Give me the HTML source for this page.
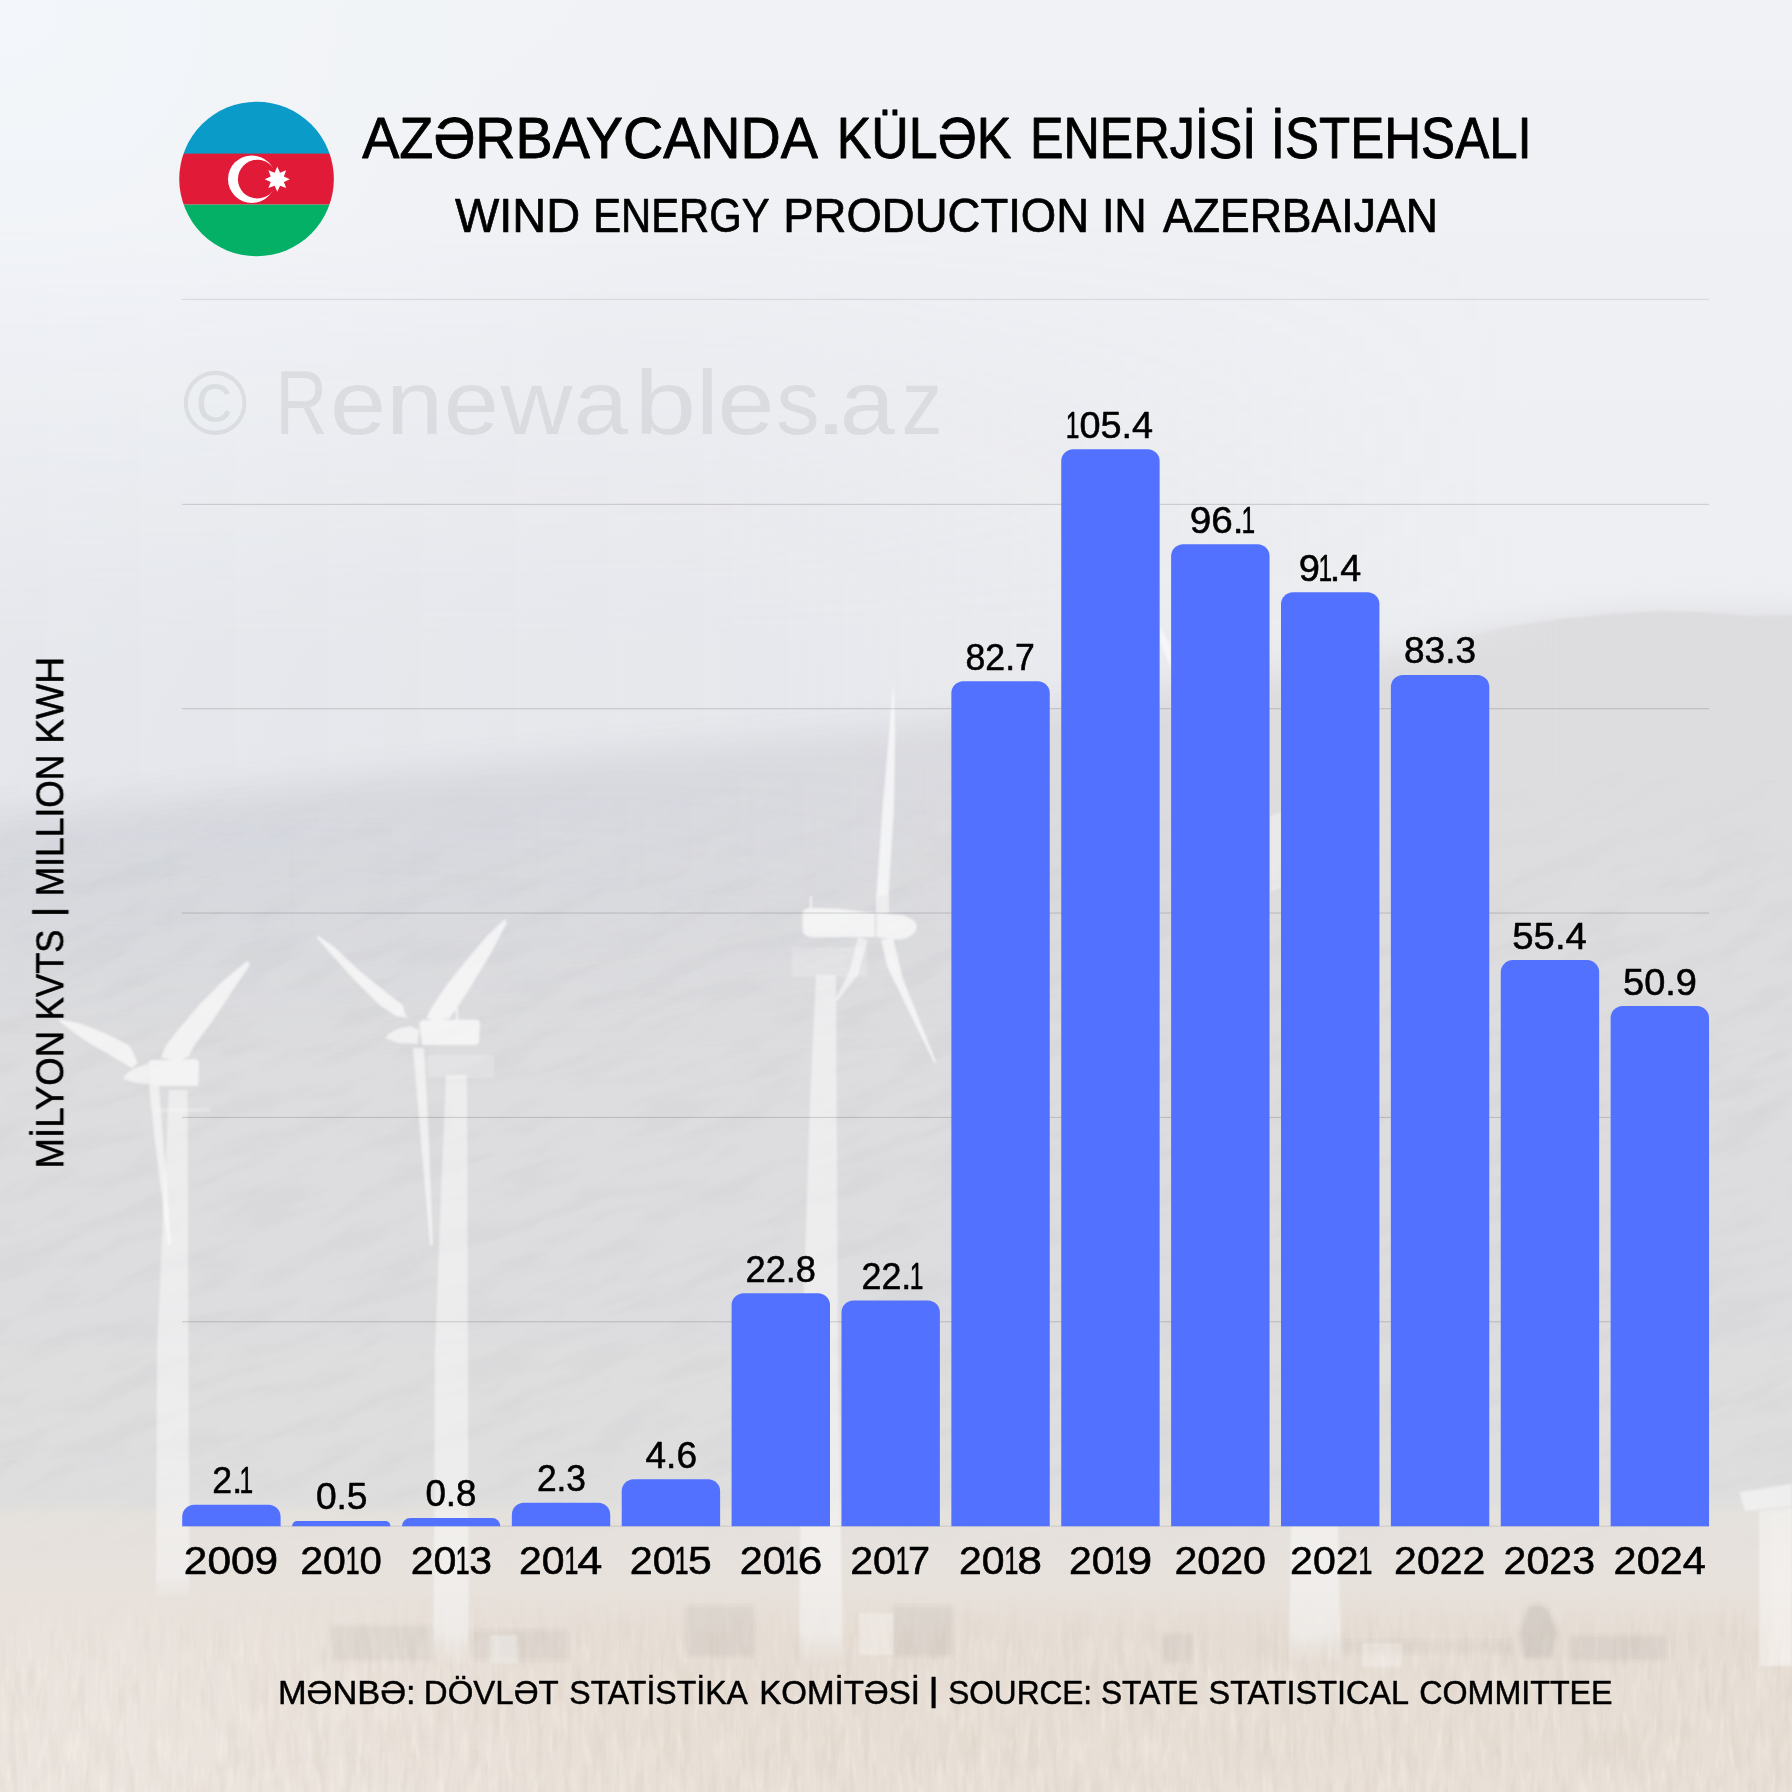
<!DOCTYPE html>
<html lang="az">
<head>
<meta charset="utf-8">
<title>Azərbaycanda külək enerjisi istehsalı</title>
<style>
html,body{margin:0;padding:0;background:#e9ebef;}
body{width:1792px;height:1792px;overflow:hidden;font-family:"Liberation Sans",sans-serif;}
svg{display:block;position:absolute;left:0;top:0;}
text{font-family:"Liberation Sans",sans-serif;fill:#000;stroke:#000;stroke-linejoin:round;}
</style>
</head>
<body>
<svg width="1792" height="1792" viewBox="0 0 1792 1792">
<defs>
<linearGradient id="sky" x1="0" y1="0" x2="0" y2="1792" gradientUnits="userSpaceOnUse">
<stop offset="0" stop-color="#f0f2f5"/>
<stop offset="0.17" stop-color="#eff0f4"/>
<stop offset="0.28" stop-color="#eeeff2"/>
<stop offset="0.40" stop-color="#edeef1"/>
<stop offset="1" stop-color="#ebecef"/>
</linearGradient>
<radialGradient id="tlglow" cx="0" cy="0" r="700" gradientUnits="userSpaceOnUse">
<stop offset="0" stop-color="#f4f8fc" stop-opacity="0.7"/>
<stop offset="0.5" stop-color="#f4f8fc" stop-opacity="0.35"/>
<stop offset="1" stop-color="#f4f8fc" stop-opacity="0"/>
</radialGradient>
<linearGradient id="hazeh" x1="0" y1="0" x2="1792" y2="0" gradientUnits="userSpaceOnUse">
<stop offset="0" stop-color="#c6ccd9" stop-opacity="0.2"/>
<stop offset="0.4" stop-color="#c6ccd9" stop-opacity="0.17"/>
<stop offset="0.85" stop-color="#c6ccd9" stop-opacity="0"/>
</linearGradient>
<linearGradient id="hazev" x1="0" y1="220" x2="0" y2="640" gradientUnits="userSpaceOnUse">
<stop offset="0" stop-color="#fff" stop-opacity="0"/>
<stop offset="1" stop-color="#fff" stop-opacity="1"/>
</linearGradient>
<mask id="hazemask"><rect width="1792" height="1000" fill="url(#hazev)"/></mask>
<linearGradient id="mtn" x1="0" y1="600" x2="0" y2="1560" gradientUnits="userSpaceOnUse">
<stop offset="0" stop-color="#dddde0"/>
<stop offset="0.2" stop-color="#dddde0"/>
<stop offset="0.5" stop-color="#dddddf"/>
<stop offset="0.85" stop-color="#dededf"/>
<stop offset="1" stop-color="#dfdfdf"/>
</linearGradient>
<linearGradient id="mtnblue" x1="0" y1="0" x2="1250" y2="0" gradientUnits="userSpaceOnUse">
<stop offset="0" stop-color="#c3cbdc" stop-opacity="0.3"/>
<stop offset="0.5" stop-color="#c3cbdc" stop-opacity="0.2"/>
<stop offset="1" stop-color="#c3c9d8" stop-opacity="0"/>
</linearGradient>
<linearGradient id="mtnbluev" x1="0" y1="760" x2="0" y2="1060" gradientUnits="userSpaceOnUse">
<stop offset="0" stop-color="#fff" stop-opacity="1"/>
<stop offset="0.4" stop-color="#fff" stop-opacity="0.8"/>
<stop offset="1" stop-color="#fff" stop-opacity="0"/>
</linearGradient>
<mask id="mbmask"><rect y="600" width="1300" height="480" fill="url(#mtnbluev)"/></mask>
<linearGradient id="ground" x1="0" y1="1496" x2="0" y2="1792" gradientUnits="userSpaceOnUse">
<stop offset="0" stop-color="#e3e1de" stop-opacity="0"/>
<stop offset="0.06" stop-color="#e5e1dd" stop-opacity="1"/>
<stop offset="0.4" stop-color="#e9e2dc"/>
<stop offset="0.6" stop-color="#ebe4de"/>
<stop offset="1" stop-color="#ece5df"/>
</linearGradient>
<linearGradient id="rightsharp" x1="1380" y1="0" x2="1560" y2="0" gradientUnits="userSpaceOnUse">
<stop offset="0" stop-color="#fff" stop-opacity="0"/>
<stop offset="1" stop-color="#fff" stop-opacity="1"/>
</linearGradient>
<mask id="rmask"><rect x="1300" y="500" width="500" height="400" fill="url(#rightsharp)"/></mask>
<linearGradient id="tower" x1="0" y1="1000" x2="0" y2="1662" gradientUnits="userSpaceOnUse">
<stop offset="0" stop-color="#fff" stop-opacity="0.48"/>
<stop offset="0.8" stop-color="#fff" stop-opacity="0.45"/>
<stop offset="0.955" stop-color="#f4f4f5" stop-opacity="0.55"/>
<stop offset="1" stop-color="#f4f4f5" stop-opacity="0.05"/>
</linearGradient>
<linearGradient id="towerA" x1="0" y1="1000" x2="0" y2="1598" gradientUnits="userSpaceOnUse">
<stop offset="0" stop-color="#fff" stop-opacity="0.48"/>
<stop offset="0.8" stop-color="#fff" stop-opacity="0.45"/>
<stop offset="0.965" stop-color="#f4f4f5" stop-opacity="0.55"/>
<stop offset="1" stop-color="#f4f4f5" stop-opacity="0.05"/>
</linearGradient>
<filter id="b14" x="-10%" y="-20%" width="120%" height="140%"><feGaussianBlur stdDeviation="17"/></filter>
<filter id="b3" x="-10%" y="-20%" width="120%" height="140%"><feGaussianBlur stdDeviation="1.2"/></filter>
<filter id="b1" x="-20%" y="-20%" width="140%" height="140%"><feGaussianBlur stdDeviation="0.9"/></filter>
<clipPath id="flagclip"><circle cx="256.55" cy="179" r="77.3"/></clipPath>
</defs>
<rect width="1792" height="1792" fill="url(#sky)"/>
<rect width="720" height="720" fill="url(#tlglow)"/>
<rect width="1792" height="1000" fill="url(#hazeh)" mask="url(#hazemask)"/>
<path d="M-60 822 L100 806 L200 794 L400 773 L600 754 L800 736 L900 726 L1100 698 L1300 668 L1400 652 L1500 630 L1615 616 L1700 614 L1860 618 L1860 1640 L-60 1640 Z" fill="url(#mtn)" filter="url(#b14)"/>
<path d="M1300 676 L1400 656 L1450 642 L1500 628 L1560 619 L1615 614 L1660 611 L1700 612 L1750 616 L1800 615 L1800 780 L1300 780 Z" fill="#dddde0" filter="url(#b3)" mask="url(#rmask)"/>
<g mask="url(#mbmask)"><path d="M-60 832 L100 816 L200 804 L400 783 L600 764 L800 746 L900 736 L1100 708 L1300 678 L1300 1080 L-60 1080 Z" fill="url(#mtnblue)" filter="url(#b14)"/></g>
<rect y="1496" width="1792" height="296" fill="url(#ground)"/>
<defs>
<filter id="grassD" x="0" y="0" width="100%" height="100%" color-interpolation-filters="sRGB">
<feTurbulence type="fractalNoise" baseFrequency="0.11 0.018" numOctaves="3" seed="11"/>
<feColorMatrix type="matrix" values="0 0 0 0 0.52  0 0 0 0 0.42  0 0 0 0 0.30  2.2 0 0 0 -0.95"/>
</filter>
<filter id="grassL" x="0" y="0" width="100%" height="100%" color-interpolation-filters="sRGB">
<feTurbulence type="fractalNoise" baseFrequency="0.16 0.03" numOctaves="2" seed="29"/>
<feColorMatrix type="matrix" values="0 0 0 0 1  0 0 0 0 0.98  0 0 0 0 0.94  0 2.4 0 0 -1.15"/>
</filter>
<filter id="rock" x="0" y="0" width="100%" height="100%" color-interpolation-filters="sRGB">
<feTurbulence type="fractalNoise" baseFrequency="0.012 0.05" numOctaves="3" seed="5"/>
<feColorMatrix type="matrix" values="0 0 0 0 0.45  0 0 0 0 0.46  0 0 0 0 0.5  1.8 0 0 0 -0.8"/>
</filter>
<linearGradient id="grassfade" x1="0" y1="1590" x2="0" y2="1792" gradientUnits="userSpaceOnUse">
<stop offset="0" stop-color="#fff" stop-opacity="0"/>
<stop offset="0.3" stop-color="#fff" stop-opacity="0.8"/>
<stop offset="1" stop-color="#fff" stop-opacity="1"/>
</linearGradient>
<mask id="grassmask"><rect y="1570" width="1792" height="222" fill="url(#grassfade)"/></mask>
<linearGradient id="rockfade" x1="0" y1="760" x2="0" y2="1560" gradientUnits="userSpaceOnUse">
<stop offset="0" stop-color="#fff" stop-opacity="0"/>
<stop offset="0.2" stop-color="#fff" stop-opacity="1"/>
<stop offset="0.85" stop-color="#fff" stop-opacity="1"/>
<stop offset="1" stop-color="#fff" stop-opacity="0"/>
</linearGradient>
<mask id="rockmask"><rect y="760" width="1792" height="800" fill="url(#rockfade)"/></mask>
<linearGradient id="tanh" x1="150" y1="0" x2="700" y2="0" gradientUnits="userSpaceOnUse">
<stop offset="0" stop-color="#dccfbd" stop-opacity="0"/>
<stop offset="1" stop-color="#dccfbd" stop-opacity="0.27"/>
</linearGradient>
<linearGradient id="tanv" x1="0" y1="1590" x2="0" y2="1792" gradientUnits="userSpaceOnUse">
<stop offset="0" stop-color="#fff" stop-opacity="0"/>
<stop offset="0.22" stop-color="#fff" stop-opacity="1"/>
<stop offset="0.7" stop-color="#fff" stop-opacity="1"/>
<stop offset="1" stop-color="#fff" stop-opacity="0.75"/>
</linearGradient>
<mask id="tanmask"><rect y="1590" width="1792" height="202" fill="url(#tanv)"/></mask>
<filter id="b2" x="-20%" y="-20%" width="140%" height="140%"><feGaussianBlur stdDeviation="2"/></filter>
</defs>
<g mask="url(#rockmask)"><rect x="-300" y="300" width="2400" height="1700" filter="url(#rock)" opacity="0.055" transform="rotate(-20 896 1160)"/></g>
<rect y="1590" width="1792" height="202" fill="url(#tanh)" mask="url(#tanmask)"/>
<g mask="url(#grassmask)">
<rect y="1570" width="1792" height="222" filter="url(#grassD)" opacity="0.07"/>
<rect y="1570" width="1792" height="222" filter="url(#grassL)" opacity="0.32"/>
</g>
<g filter="url(#b2)" fill="#5a5a5a">
<rect x="331" y="1626" width="100" height="34" opacity="0.07"/>
<rect x="472" y="1630" width="96" height="30" opacity="0.06"/>
<rect x="686" y="1606" width="68" height="50" opacity="0.075"/>
<rect x="892" y="1606" width="60" height="50" opacity="0.075"/>
<rect x="1163" y="1634" width="30" height="28" opacity="0.07"/>
<rect x="1342" y="1640" width="170" height="14" opacity="0.04"/>
<path d="M1527 1608 Q1539 1600 1549 1610 L1557 1632 L1552 1658 L1524 1658 L1520 1632 Z" opacity="0.12"/>
<rect x="1570" y="1636" width="96" height="24" opacity="0.08"/>
</g>
<g filter="url(#b1)" fill="#fff">
<rect x="490" y="1635" width="27" height="28" opacity="0.3"/>
<rect x="859" y="1613" width="35" height="42" opacity="0.3"/>
<rect x="1362" y="1643" width="40" height="24" opacity="0.28"/>
</g>
<g fill="#fff" filter="url(#b1)">
<!-- turbine A -->
<g>
<path fill="url(#towerA)" d="M169 1090 L187.5 1090 L188.5 1350 L189.5 1598 L156 1598 L157 1350 L164 1192 Z"/>
<rect x="155" y="1108" width="56" height="4" opacity="0.25"/>
</g>
<g opacity="0.66">
<path d="M247.3 960.7 L250 964.6 L232.1 991.4 L210.7 1023.6 L194.6 1045 L189.3 1055.7 L178.6 1061.1 L160.7 1057.5 L166.1 1045 L180.4 1027.1 L200 1003.9 L223.2 980.7 Z"/>
<path d="M58.9 1019.1 L80.4 1023.6 L107.1 1034.3 L128.6 1045 L133 1052.1 L137.5 1062.9 L132.1 1068.2 L114.3 1057.5 L89.3 1043.2 L71.4 1030.7 L58.9 1020.9 Z"/>
<path d="M149 1086 L159 1086 L164 1150 L171 1245 L168 1245 L156 1150 Z" opacity="0.85"/>
<path d="M148.2 1064 Q148.2 1060 153 1060 L195 1059.3 Q199.1 1059.3 199 1064 L198.2 1086 L150 1086 Z"/>
<path d="M123.2 1079 Q128 1068 148.2 1064 L150 1084 L136 1083 Z" opacity="0.9"/>
</g>
<!-- turbine B -->
<g>
<path fill="url(#tower)" d="M446 1075 L467 1075 L468 1350 L468.7 1662 L433.5 1662 L435 1350 L441 1192 Z"/>
<rect x="428" y="1055" width="66" height="23" opacity="0.2"/>
</g>
<g opacity="0.68">
<path d="M316.6 934.8 L333.6 946.4 L360.4 971.4 L387.1 992.9 L403.2 1005.4 L405 1014.3 L408.6 1017.9 L396.1 1016.1 L380 1005.4 L355 980.4 L333.6 957.1 L317.5 938.4 Z"/>
<path d="M505.4 918.75 L506.8 923.2 L490.7 953.6 L469.3 989.3 L455 1010.7 L449.6 1017.9 L437.1 1021.4 L426.4 1017.9 L431.8 1007.1 L446.1 985.7 L467.5 958.9 L487.1 935.7 Z"/>
<path d="M413 1048 L424 1048 L428 1120 L433 1245 L430 1245 L420 1130 Z" opacity="0.85"/>
<path d="M419.3 1024 Q420 1020 425 1020 L476 1019.6 Q480 1020 480 1024 L479 1042 Q478 1045 474 1045 L422 1045 Z"/>
<path d="M385 1038 Q392 1028 410 1026 L419 1030 L418 1044 L398 1043 Z" opacity="0.9"/>
<rect x="456" y="1008" width="2" height="12"/>
</g>
<!-- turbine C -->
<g>
<path fill="url(#tower)" d="M816 975 L836 975 L838 1350 L843 1662 L799 1662 L802 1350 L810 1100 Z"/>
<rect x="791.6" y="947.3" width="76" height="29.5" opacity="0.2"/>
</g>
<g opacity="0.68">
<path d="M893.4 680.9 L895.2 733.7 L894 807.3 L888.5 895.7 L876.3 895.7 L882.6 807.3 L889 733.7 Z"/>
<path d="M881.2 939.9 L893 937.4 L903 979.2 L936.4 1062.6 L934 1062.6 L887.3 966.9 Z"/>
<path d="M858 937 L867.7 940 L858 975 L837 1001 L835 1000 L850 970 Z" opacity="0.8"/>
<path d="M802.6 914 Q803 908 810 908 L836 908.5 L875 913 L875 937 L812 937.5 Q803 936 802.6 930 Z"/>
<path d="M876.3 913 L903 915 Q917 920 917 927 Q916 936 900 939.9 L876.3 937 Z"/>
<rect x="876" y="895" width="13" height="18" opacity="0.8"/>
<rect x="810" y="896" width="2" height="12"/>
</g>
<!-- turbine D fragments visible between the bars and below the axis -->
<g>
<path fill="url(#tower)" d="M1291 1526 L1338 1526 L1341 1662 L1289 1662 Z"/>
</g>
<g opacity="0.55">
<path d="M1159.5 626 L1171 646 L1171 668 L1159.5 642 Z"/>
<path d="M1270 816 L1281 812 L1281 888 L1270 892 Z" opacity="0.7"/>
</g>
<!-- building at right edge -->
<g opacity="0.5">
<path d="M1739 1492 L1792 1484 L1792 1506 L1745 1511 Z"/>
<path d="M1759 1511 L1792 1507 L1792 1666 L1759 1666 Z" opacity="0.8"/>
<path d="M1771 1514 L1792 1511 L1792 1662 L1771 1662 Z" opacity="0.5"/>
</g>
</g>
<rect x="182" y="1525.6" width="1527" height="1.1" fill="#000" opacity="0.1"/>
<rect x="182" y="1321.24" width="1527" height="1.1" fill="#000" opacity="0.15"/>
<rect x="182" y="1116.88" width="1527" height="1.1" fill="#000" opacity="0.15"/>
<rect x="182" y="912.52" width="1527" height="1.1" fill="#000" opacity="0.15"/>
<rect x="182" y="708.16" width="1527" height="1.1" fill="#000" opacity="0.15"/>
<rect x="182" y="503.8" width="1527" height="1.1" fill="#000" opacity="0.15"/>
<rect x="182" y="298.84" width="1527" height="1.1" fill="#000" opacity="0.1"/>
<path d="M182.2 1526.2 V1516.74 A12 12 0 0 1 194.2 1504.74 H268.6 A12 12 0 0 1 280.6 1516.74 V1526.2 Z" fill="#5271ff"/>
<path d="M292.08 1526.2 V1526.2 A5.11 5.11 0 0 1 297.19 1521.09 H385.37 A5.11 5.11 0 0 1 390.48 1526.2 V1526.2 Z" fill="#5271ff"/>
<path d="M401.96 1526.2 V1526.2 A8.17 8.17 0 0 1 410.13 1518.03 H492.19 A8.17 8.17 0 0 1 500.36 1526.2 V1526.2 Z" fill="#5271ff"/>
<path d="M511.84 1526.2 V1514.7 A12 12 0 0 1 523.84 1502.7 H598.24 A12 12 0 0 1 610.24 1514.7 V1526.2 Z" fill="#5271ff"/>
<path d="M621.72 1526.2 V1491.2 A12 12 0 0 1 633.72 1479.2 H708.12 A12 12 0 0 1 720.12 1491.2 V1526.2 Z" fill="#5271ff"/>
<path d="M731.6 1526.2 V1305.23 A12 12 0 0 1 743.6 1293.23 H818 A12 12 0 0 1 830 1305.23 V1526.2 Z" fill="#5271ff"/>
<path d="M841.48 1526.2 V1312.38 A12 12 0 0 1 853.48 1300.38 H927.88 A12 12 0 0 1 939.88 1312.38 V1526.2 Z" fill="#5271ff"/>
<path d="M951.36 1526.2 V693.17 A12 12 0 0 1 963.36 681.17 H1037.76 A12 12 0 0 1 1049.76 693.17 V1526.2 Z" fill="#5271ff"/>
<path d="M1061.24 1526.2 V461.22 A12 12 0 0 1 1073.24 449.22 H1147.64 A12 12 0 0 1 1159.64 461.22 V1526.2 Z" fill="#5271ff"/>
<path d="M1171.12 1526.2 V556.25 A12 12 0 0 1 1183.12 544.25 H1257.52 A12 12 0 0 1 1269.52 556.25 V1526.2 Z" fill="#5271ff"/>
<path d="M1281 1526.2 V604.27 A12 12 0 0 1 1293 592.27 H1367.4 A12 12 0 0 1 1379.4 604.27 V1526.2 Z" fill="#5271ff"/>
<path d="M1390.88 1526.2 V687.04 A12 12 0 0 1 1402.88 675.04 H1477.28 A12 12 0 0 1 1489.28 687.04 V1526.2 Z" fill="#5271ff"/>
<path d="M1500.76 1526.2 V972.12 A12 12 0 0 1 1512.76 960.12 H1587.16 A12 12 0 0 1 1599.16 972.12 V1526.2 Z" fill="#5271ff"/>
<path d="M1610.64 1526.2 V1018.1 A12 12 0 0 1 1622.64 1006.1 H1697.04 A12 12 0 0 1 1709.04 1018.1 V1526.2 Z" fill="#5271ff"/>
<g clip-path="url(#flagclip)">
<rect x="179" y="101" width="156" height="53" fill="#0b9bc9"/>
<rect x="179" y="153.6" width="156" height="51" fill="#e11a38"/>
<rect x="179" y="204.6" width="156" height="53" fill="#04b066"/>
</g>
<circle cx="251.8" cy="179.2" r="23.8" fill="#fff"/>
<circle cx="257.35" cy="179.15" r="19.45" fill="#e11a38"/>
<polygon points="277.3,166.6 280.02,172.64 286.21,170.29 283.86,176.48 289.9,179.2 283.86,181.92 286.21,188.11 280.02,185.76 277.3,191.8 274.58,185.76 268.39,188.11 270.74,181.92 264.7,179.2 270.74,176.48 268.39,170.29 274.58,172.64" fill="#fff"/>
<text y="158" font-size="57.4" stroke-width="0.86"><tspan x="362.18" textLength="452.79" lengthAdjust="spacingAndGlyphs">AZƏRBAYCANDA</tspan> <tspan x="836.69" textLength="174.63" lengthAdjust="spacingAndGlyphs">KÜLƏK</tspan> <tspan x="1030.02" textLength="226.33" lengthAdjust="spacingAndGlyphs">ENERJİSİ</tspan> <tspan x="1270.87" textLength="260.87" lengthAdjust="spacingAndGlyphs">İSTEHSALI</tspan></text>
<text y="231.8" font-size="48.7" stroke-width="0.73"><tspan x="454.99" textLength="125.1" lengthAdjust="spacingAndGlyphs">WIND</tspan> <tspan x="593.22" textLength="175.67" lengthAdjust="spacingAndGlyphs">ENERGY</tspan> <tspan x="783.26" textLength="305.87" lengthAdjust="spacingAndGlyphs">PRODUCTION</tspan> <tspan x="1101.89" textLength="44.91" lengthAdjust="spacingAndGlyphs">IN</tspan> <tspan x="1163.07" textLength="274.78" lengthAdjust="spacingAndGlyphs">AZERBAIJAN</tspan></text>
<text y="434.2" font-size="90.8" stroke-width="0" opacity="0.072"><tspan x="182.54" textLength="65.28" lengthAdjust="spacingAndGlyphs">©</tspan> <tspan x="275.55" textLength="51.93" lengthAdjust="spacingAndGlyphs">R</tspan><tspan x="329.9" textLength="56.03" lengthAdjust="spacingAndGlyphs">e</tspan><tspan x="386.04" textLength="57.21" lengthAdjust="spacingAndGlyphs">n</tspan><tspan x="443.82" textLength="55.07" lengthAdjust="spacingAndGlyphs">e</tspan><tspan x="500.4" textLength="71.77" lengthAdjust="spacingAndGlyphs">w</tspan><tspan x="573.78" textLength="54.36" lengthAdjust="spacingAndGlyphs">a</tspan><tspan x="634.38" textLength="61.82" lengthAdjust="spacingAndGlyphs">b</tspan><tspan x="696.03" textLength="22.55" lengthAdjust="spacingAndGlyphs">l</tspan><tspan x="717.45" textLength="56.93" lengthAdjust="spacingAndGlyphs">e</tspan><tspan x="776.14" textLength="43.39" lengthAdjust="spacingAndGlyphs">s</tspan><tspan x="813.97" textLength="33.81" lengthAdjust="spacingAndGlyphs">.</tspan><tspan x="839.77" textLength="55.05" lengthAdjust="spacingAndGlyphs">a</tspan><tspan x="901.62" textLength="40.99" lengthAdjust="spacingAndGlyphs">z</tspan></text>
<text y="1703.5" font-size="34" stroke-width="0.51"><tspan x="277.93" textLength="137.65" lengthAdjust="spacingAndGlyphs">MƏNBƏ:</tspan> <tspan x="423.84" textLength="134.3" lengthAdjust="spacingAndGlyphs">DÖVLƏT</tspan> <tspan x="569.29" textLength="176.88" lengthAdjust="spacingAndGlyphs">STATİSTİKA</tspan> <tspan x="759.13" textLength="160.87" lengthAdjust="spacingAndGlyphs">KOMİTƏSİ</tspan> <tspan x="928.24" textLength="10.66" lengthAdjust="spacingAndGlyphs" y="1700.9">|</tspan> <tspan x="948.2" textLength="143.97" lengthAdjust="spacingAndGlyphs" y="1703.5">SOURCE:</tspan> <tspan x="1100.98" textLength="97.49" lengthAdjust="spacingAndGlyphs">STATE</tspan> <tspan x="1208.57" textLength="199.19" lengthAdjust="spacingAndGlyphs">STATISTICAL</tspan> <tspan x="1419.2" textLength="193.39" lengthAdjust="spacingAndGlyphs">COMMITTEE</tspan></text>
<text y="1573.6" font-size="38.6" stroke-width="0.58"><tspan x="183.84" textLength="94.37" lengthAdjust="spacingAndGlyphs">2009</tspan></text>
<text y="1493.14" font-size="37.2" stroke-width="0.56"><tspan x="212.33" textLength="29.75" lengthAdjust="spacingAndGlyphs">2.</tspan><tspan x="239.53" textLength="13.66" lengthAdjust="spacingAndGlyphs">1</tspan></text>
<text y="1573.6" font-size="38.6" stroke-width="0.58"><tspan x="300.17" textLength="45.7" lengthAdjust="spacingAndGlyphs">20</tspan><tspan x="345.6" textLength="14.17" lengthAdjust="spacingAndGlyphs">1</tspan><tspan x="359.55" textLength="22.33" lengthAdjust="spacingAndGlyphs">0</tspan></text>
<text y="1509.49" font-size="37.2" stroke-width="0.56"><tspan x="315.89" textLength="51.66" lengthAdjust="spacingAndGlyphs">0.5</tspan></text>
<text y="1573.6" font-size="38.6" stroke-width="0.58"><tspan x="410.68" textLength="45.8" lengthAdjust="spacingAndGlyphs">20</tspan><tspan x="455.38" textLength="14.17" lengthAdjust="spacingAndGlyphs">1</tspan><tspan x="469.19" textLength="22.73" lengthAdjust="spacingAndGlyphs">3</tspan></text>
<text y="1506.43" font-size="37.2" stroke-width="0.56"><tspan x="425.44" textLength="51.08" lengthAdjust="spacingAndGlyphs">0.8</tspan></text>
<text y="1573.6" font-size="38.6" stroke-width="0.58"><tspan x="518.92" textLength="45.57" lengthAdjust="spacingAndGlyphs">20</tspan><tspan x="564.17" textLength="14.17" lengthAdjust="spacingAndGlyphs">1</tspan><tspan x="577.15" textLength="25.1" lengthAdjust="spacingAndGlyphs">4</tspan></text>
<text y="1491.1" font-size="37.2" stroke-width="0.56"><tspan x="536.9" textLength="49.15" lengthAdjust="spacingAndGlyphs">2.3</tspan></text>
<text y="1573.6" font-size="38.6" stroke-width="0.58"><tspan x="629.68" textLength="45.99" lengthAdjust="spacingAndGlyphs">20</tspan><tspan x="674.61" textLength="14.17" lengthAdjust="spacingAndGlyphs">1</tspan><tspan x="687.97" textLength="23.74" lengthAdjust="spacingAndGlyphs">5</tspan></text>
<text y="1467.6" font-size="37.2" stroke-width="0.56"><tspan x="645.53" textLength="51.48" lengthAdjust="spacingAndGlyphs">4.6</tspan></text>
<text y="1573.6" font-size="38.6" stroke-width="0.58"><tspan x="739.68" textLength="45.99" lengthAdjust="spacingAndGlyphs">20</tspan><tspan x="784.61" textLength="14.17" lengthAdjust="spacingAndGlyphs">1</tspan><tspan x="797.75" textLength="24.62" lengthAdjust="spacingAndGlyphs">6</tspan></text>
<text y="1281.63" font-size="37.2" stroke-width="0.56"><tspan x="745.54" textLength="70.49" lengthAdjust="spacingAndGlyphs">22.8</tspan></text>
<text y="1573.6" font-size="38.6" stroke-width="0.58"><tspan x="850.17" textLength="45.7" lengthAdjust="spacingAndGlyphs">20</tspan><tspan x="895.6" textLength="14.17" lengthAdjust="spacingAndGlyphs">1</tspan><tspan x="907.95" textLength="22.06" lengthAdjust="spacingAndGlyphs">7</tspan></text>
<text y="1288.78" font-size="37.2" stroke-width="0.56"><tspan x="861.44" textLength="49.91" lengthAdjust="spacingAndGlyphs">22.</tspan><tspan x="909.67" textLength="13.66" lengthAdjust="spacingAndGlyphs">1</tspan></text>
<text y="1573.6" font-size="38.6" stroke-width="0.58"><tspan x="958.92" textLength="45.57" lengthAdjust="spacingAndGlyphs">20</tspan><tspan x="1004.17" textLength="14.17" lengthAdjust="spacingAndGlyphs">1</tspan><tspan x="1017.35" textLength="24.77" lengthAdjust="spacingAndGlyphs">8</tspan></text>
<text y="669.57" font-size="37.2" stroke-width="0.56"><tspan x="965.55" textLength="69.32" lengthAdjust="spacingAndGlyphs">82.7</tspan></text>
<text y="1573.6" font-size="38.6" stroke-width="0.58"><tspan x="1068.92" textLength="45.57" lengthAdjust="spacingAndGlyphs">20</tspan><tspan x="1114.17" textLength="14.17" lengthAdjust="spacingAndGlyphs">1</tspan><tspan x="1127.19" textLength="24.93" lengthAdjust="spacingAndGlyphs">9</tspan></text>
<text y="437.62" font-size="37.2" stroke-width="0.56"><tspan x="1065.87" textLength="13.66" lengthAdjust="spacingAndGlyphs">1</tspan><tspan x="1079.51" textLength="73.69" lengthAdjust="spacingAndGlyphs">05.4</tspan></text>
<text y="1573.6" font-size="38.6" stroke-width="0.58"><tspan x="1174.42" textLength="91.61" lengthAdjust="spacingAndGlyphs">2020</tspan></text>
<text y="532.65" font-size="37.2" stroke-width="0.56"><tspan x="1189.81" textLength="53.76" lengthAdjust="spacingAndGlyphs">96.</tspan><tspan x="1241.47" textLength="13.66" lengthAdjust="spacingAndGlyphs">1</tspan></text>
<text y="1573.6" font-size="38.6" stroke-width="0.58"><tspan x="1290.12" textLength="68.53" lengthAdjust="spacingAndGlyphs">202</tspan><tspan x="1358.2" textLength="14.17" lengthAdjust="spacingAndGlyphs">1</tspan></text>
<text y="580.67" font-size="37.2" stroke-width="0.56"><tspan x="1298.85" textLength="21.15" lengthAdjust="spacingAndGlyphs">9</tspan><tspan x="1318.53" textLength="13.66" lengthAdjust="spacingAndGlyphs">1</tspan><tspan x="1329.76" textLength="31.45" lengthAdjust="spacingAndGlyphs">.4</tspan></text>
<text y="1573.6" font-size="38.6" stroke-width="0.58"><tspan x="1394.11" textLength="91.13" lengthAdjust="spacingAndGlyphs">2022</tspan></text>
<text y="663.44" font-size="37.2" stroke-width="0.56"><tspan x="1404" textLength="72.04" lengthAdjust="spacingAndGlyphs">83.3</tspan></text>
<text y="1573.6" font-size="38.6" stroke-width="0.58"><tspan x="1503.61" textLength="91.38" lengthAdjust="spacingAndGlyphs">2023</tspan></text>
<text y="948.52" font-size="37.2" stroke-width="0.56"><tspan x="1512.29" textLength="74.63" lengthAdjust="spacingAndGlyphs">55.4</tspan></text>
<text y="1573.6" font-size="38.6" stroke-width="0.58"><tspan x="1613.59" textLength="92.32" lengthAdjust="spacingAndGlyphs">2024</tspan></text>
<text y="994.5" font-size="37.2" stroke-width="0.56"><tspan x="1623.06" textLength="73.97" lengthAdjust="spacingAndGlyphs">50.9</tspan></text>
<text transform="translate(63.3 0) rotate(-90)" y="0" font-size="39.2" stroke-width="0.59"><tspan x="-1168.42" textLength="137.46" lengthAdjust="spacingAndGlyphs">MİLYON</tspan> <tspan x="-1020.14" textLength="90.63" lengthAdjust="spacingAndGlyphs">KVTS</tspan> <tspan x="-917.57" textLength="11.17" lengthAdjust="spacingAndGlyphs" y="-3.3">|</tspan> <tspan x="-896.14" textLength="141.33" lengthAdjust="spacingAndGlyphs" y="0">MILLION</tspan> <tspan x="-743.85" textLength="86.99" lengthAdjust="spacingAndGlyphs">KWH</tspan></text>
</svg>
</body>
</html>
